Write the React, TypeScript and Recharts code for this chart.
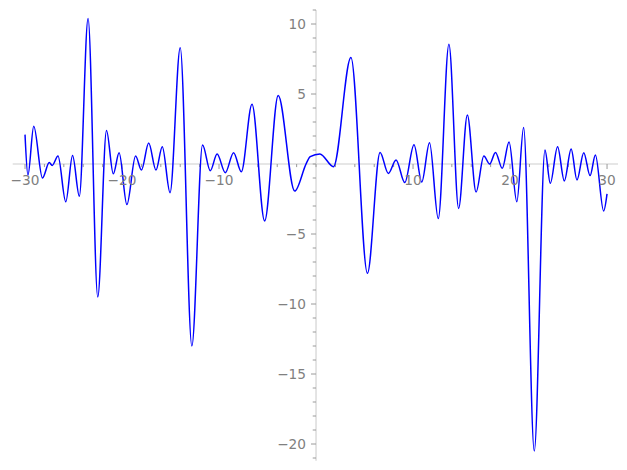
import React from "react";
import { LineChart, Line, XAxis, YAxis, ReferenceLine, ReferenceDot } from "recharts";

const xs = [
  -30.0, -29.7, -29.1, -28.2, -27.5, -27.2, -26.6, -25.8, -25.1, -24.4,
  -23.5, -22.5, -21.6, -20.9, -20.3, -19.5, -18.6, -18.0, -17.25, -16.5,
  -15.85, -15.05, -14.0, -12.8, -11.7, -10.9, -10.2, -9.35, -8.5, -7.7,
  -6.6, -5.3, -3.9, -2.2, -1.0, -0.6, 0.4, 1.8, 3.6, 5.3,
  6.6, 7.45, 8.25, 9.15, 10.1, 10.9, 11.7, 12.6, 13.7, 14.7,
  15.6, 16.5, 17.3, 17.9, 18.5, 19.2, 19.9, 20.7, 21.4, 22.5,
  23.6, 24.15, 24.9, 25.6, 26.3, 26.9, 27.6, 28.25, 28.8, 29.65,
  30.0,
];
const ys = [
  2.1, -0.8, 2.7, -1.0, 0.1, -0.1, 0.57, -2.7, 0.6, -2.3,
  10.4, -9.5, 2.4, -0.7, 0.8, -2.9, 0.57, -0.43, 1.5, -0.43,
  1.24, -2.05, 8.3, -13.0, 1.36, -0.48, 0.71, -0.62, 0.81, -0.55,
  4.26, -4.07, 4.9, -1.93, 0.05, 0.52, 0.72, -0.19, 7.6, -7.8,
  0.83, -0.67, 0.29, -1.33, 1.38, -1.29, 1.52, -3.9, 8.55, -3.17,
  3.5, -2.0, 0.57, 0.0, 0.83, -0.31, 1.57, -2.7, 2.6, -20.5,
  1.0, -1.38, 1.24, -1.21, 1.07, -1.14, 0.81, -0.83, 0.64, -3.36,
  -2.14,
];

const xMajorTicks = [-30, -20, -10, 10, 20, 30];
const xMinorTicks = [-28, -26, -24, -22, -18, -16, -14, -12, -8, -6, -4, -2, 0, 2, 4, 6, 8, 12, 14, 16, 18, 22, 24, 26, 28];
const yMajorTicks = [-20, -15, -10, -5, 5, 10];
const yMinorTicks = [-21, -19, -18, -17, -16, -14, -13, -12, -11, -9, -8, -7, -6, -4, -3, -2, -1, 0, 1, 2, 3, 4, 6, 7, 8, 9, 11];

const data = xs.map((x, i) => ({ x, y: ys[i] }));

const fmt = (v: number) => (v < 0 ? "\u2212" + Math.abs(v) : String(v));

const AXIS = "#dedede";
const TICK = "#9a9a9a";
const TEXT = "#808080";
const FONT = "DejaVu Sans";

export default function App() {
  return (
    <div style={{ position: "absolute", left: 0, top: 0, width: 627, height: 470, background: "#fff" }}>
      <LineChart
        width={627}
        height={470}
        data={data}
        margin={{ top: 10, right: 9, bottom: 9.2, left: 12.7 }}
      >
        <XAxis type="number" dataKey="x" domain={[-31.27, 31.13]} allowDataOverflow hide />
        <YAxis type="number" domain={[-21.2, 11]} allowDataOverflow hide />
        <ReferenceLine y={0} stroke={AXIS} strokeWidth={1.6} />
        <ReferenceLine x={0} stroke={AXIS} strokeWidth={1.6} />
        {xMajorTicks.map((t) => (
          <ReferenceLine key={"xM" + t} segment={[{ x: t, y: 0 }, { x: t, y: -0.36 }]} stroke={TICK} strokeWidth={1} />
        ))}
        {xMinorTicks.map((t) => (
          <ReferenceLine key={"xm" + t} segment={[{ x: t, y: 0 }, { x: t, y: -0.22 }]} stroke={TICK} strokeWidth={1} />
        ))}
        {yMajorTicks.map((t) => (
          <ReferenceLine key={"yM" + t} segment={[{ x: 0, y: t }, { x: -0.52, y: t }]} stroke={TICK} strokeWidth={1} />
        ))}
        {yMinorTicks.map((t) => (
          <ReferenceLine key={"ym" + t} segment={[{ x: 0, y: t }, { x: -0.34, y: t }]} stroke={TICK} strokeWidth={1} />
        ))}
        {xMajorTicks.map((t) => (
          <ReferenceDot
            key={"xl" + t}
            x={t}
            y={0}
            r={0}
            fill="none"
            stroke="none"
            label={{ value: fmt(t), position: "bottom", offset: 11, fill: TEXT, fontSize: 13.7, fontFamily: FONT }}
          />
        ))}
        {yMajorTicks.map((t) => (
          <ReferenceDot
            key={"yl" + t}
            x={0}
            y={t}
            r={0}
            fill="none"
            stroke="none"
            label={{ value: fmt(t), position: "left", offset: 10, fill: TEXT, fontSize: 13.7, fontFamily: FONT }}
          />
        ))}
        <Line
          type="monotone"
          dataKey="y"
          stroke="#0000ff"
          strokeWidth={1.5}
          dot={false}
          isAnimationActive={false}
        />
      </LineChart>
    </div>
  );
}
